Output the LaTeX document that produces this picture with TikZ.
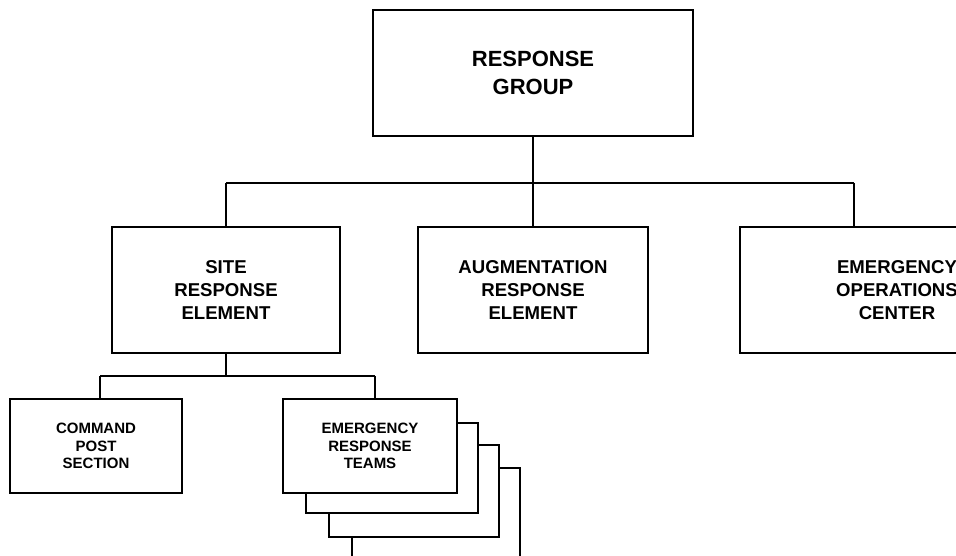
\documentclass[tikz,border=0pt]{standalone}
\usepackage{fontspec}
\setmainfont{Liberation Sans}
\begin{document}
\begin{tikzpicture}[x=1pt,y=-1pt,
  box/.style={draw, line width=1.4pt, fill=white, align=center, inner sep=0pt, font=\bfseries},
  big/.style={font=\fontsize{22}{28}\selectfont\bfseries},
  mid/.style={font=\fontsize{18.6}{23}\selectfont\bfseries},
  small/.style={font=\fontsize{15}{17.5}\selectfont\bfseries},
  conn/.style={line width=1.4pt}]
\useasboundingbox (0,0) rectangle (956,556);
\clip (0,0) rectangle (956,556);
% top
\node[box, big, minimum width=320pt, minimum height=126pt] (top) at (533,73) {RESPONSE\\GROUP};
% second level
\node[box, mid, minimum width=228pt, minimum height=126pt] (site) at (226,290) {SITE\\RESPONSE\\ELEMENT};
\node[box, mid, minimum width=230pt, minimum height=126pt] (aug) at (533,290) {AUGMENTATION\\RESPONSE\\ELEMENT};
\node[box, mid, minimum width=314pt, minimum height=126pt] (eoc) at (897,290) {EMERGENCY\\OPERATIONS\\CENTER};
% third level
\node[box, small, minimum width=172pt, minimum height=94pt] (cp) at (96,446) {COMMAND\\POST\\SECTION};
% stacked team boxes (back to front)
\node[box, minimum width=168pt, minimum height=94pt] (ert4) at (436,515) {};
\node[box, minimum width=170pt, minimum height=92pt] (ert3) at (414,491) {};
\node[box, minimum width=172pt, minimum height=90pt] (ert2) at (392,468) {};
\node[box, small, minimum width=174pt, minimum height=94pt] (ert) at (370,446) {EMERGENCY\\RESPONSE\\TEAMS};
% connectors
\coordinate (jl) at (226,183);
\coordinate (jr) at (854,183);
\coordinate (eoctop) at (854,227);
\draw[conn] (top.south) -- (top.south |- jl);
\draw[conn] (jl) -- (jr);
\draw[conn] (jl) -- (site.north);
\draw[conn] (aug.north |- jl) -- (aug.north);
\draw[conn] (jr) -- (eoctop);
\coordinate (j2l) at (100,376);
\coordinate (j2r) at (375,376);
\coordinate (cptop) at (100,399);
\coordinate (erttop) at (375,399);
\draw[conn] (site.south) -- (site.south |- j2l);
\draw[conn] (j2l) -- (j2r);
\draw[conn] (j2l) -- (cptop);
\draw[conn] (j2r) -- (erttop);
\end{tikzpicture}
\end{document}
